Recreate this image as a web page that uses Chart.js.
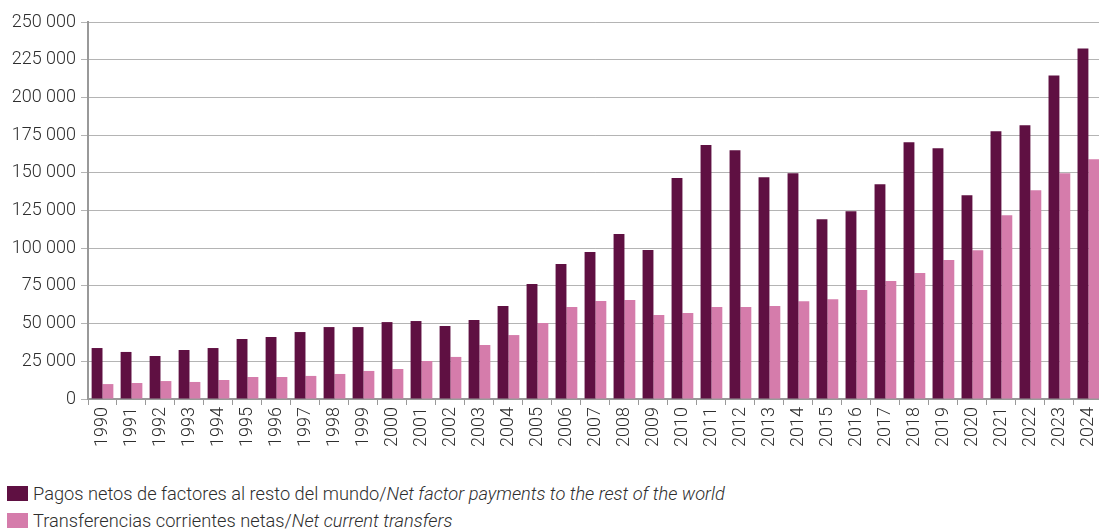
<!DOCTYPE html>
<html>
<head>
<meta charset="utf-8">
<script src="https://cdn.jsdelivr.net/npm/chart.js@4.4.1/dist/chart.umd.min.js"></script>
<style>
  html, body { margin: 0; padding: 0; background: #fff; overflow: hidden; }
  #wrap { position: absolute; left: 0; top: 0; width: 1112px; height: 462px; }
  #legend { position: absolute; left: 7px; top: 480px; font-family: Roboto, sans-serif; font-weight: 300; font-size: 19px; color: #2e2e2e; }
  .row { display: flex; align-items: center; height: 27px; white-space: nowrap; }
  .box { width: 21px; height: 15px; margin-right: 5px; flex: none; }
  .txt { display: inline-block; transform: scaleX(0.96); transform-origin: left center; }
</style>
</head>
<body>
<div id="wrap"><canvas id="chart"></canvas></div>
<div id="legend"></div>
<script>
// === DATA ===
const years = ["1990","1991","1992","1993","1994","1995","1996","1997","1998","1999",
  "2000","2001","2002","2003","2004","2005","2006","2007","2008","2009",
  "2010","2011","2012","2013","2014","2015","2016","2017","2018","2019",
  "2020","2021","2022","2023","2024"];

const netFactorPayments = [33800, 31200, 28500, 32500, 33800, 39800, 41100, 44400, 47700, 47700,
  51000, 51700, 48400, 52400, 61700, 76300, 89500, 97500, 109400, 98800,
  146600, 168400, 165000, 147000, 149700, 119200, 124500, 142400, 170200, 166200,
  135100, 177500, 181500, 214600, 232500];

const netCurrentTransfers = [9900, 10600, 11900, 11300, 12600, 14600, 14600, 15300, 16600, 18600,
  19900, 25200, 27900, 35800, 42400, 50400, 61000, 65000, 65600, 55700,
  57000, 61000, 61000, 61600, 64900, 66200, 72200, 78200, 83500, 92100,
  98700, 121900, 138400, 149700, 159000];

const seriesLabels = [
  "Pagos netos de factores al resto del mundo/Net factor payments to the rest of the world",
  "Transferencias corrientes netas/Net current transfers"
];
const seriesColors = ["#5f1042", "#d57cab"];

// === FORMAT: 250 000 ===
const fmt = (v) => String(v).replace(/\B(?=(\d{3})+(?!\d))/g, " ");

const tickFont = { family: "Roboto, sans-serif", size: 18, weight: "300" };

// === CHART ===
const ctx = document.getElementById("chart").getContext("2d");
const chart = new Chart(ctx, {
  type: "bar",
  data: {
    labels: years,
    datasets: [
      { label: seriesLabels[0], data: netFactorPayments, backgroundColor: seriesColors[0] },
      { label: seriesLabels[1], data: netCurrentTransfers, backgroundColor: seriesColors[1] },
    ],
  },
  options: {
    responsive: true,
    maintainAspectRatio: false,
    animation: false,
    layout: { padding: { top: 22, left: 0, right: 0, bottom: 0 } },
    datasets: { bar: { categoryPercentage: 0.75, barPercentage: 1.0 } },
    plugins: {
      legend: { display: false },
      tooltip: { enabled: false },
    },
    scales: {
      x: {
        grid: { display: true, drawOnChartArea: false, drawTicks: true, tickLength: 6, color: "#999", offset: true },
        border: { display: true, color: "#999", width: 2 },
        ticks: { color: "#2e2e2e", font: tickFont, autoSkip: false, minRotation: 90, maxRotation: 90, padding: 2 },
        afterFit: (s) => { s.height = 63; },
      },
      y: {
        min: 0,
        max: 250000,
        grid: { color: "#b4b4b4", lineWidth: 1, tickLength: 7, drawTicks: true },
        border: { display: true, color: "#999", width: 2 },
        ticks: { stepSize: 25000, color: "#2e2e2e", font: tickFont, padding: 5, callback: (v) => fmt(v) },
        afterFit: (s) => { s.width = 88; s.paddingTop = 0; s.paddingBottom = 0; },
      },
    },
  },
});

// === HTML LEGEND (Spanish regular / English italic) ===
const legend = document.getElementById("legend");
chart.data.datasets.forEach((ds) => {
  const [es, en] = ds.label.split("/");
  const row = document.createElement("div");
  row.className = "row";
  row.innerHTML = '<span class="box" style="background:' + ds.backgroundColor + '"></span>' +
    '<span class="txt">' + es + "/<i>" + en + "</i></span>";
  legend.appendChild(row);
});
</script>
</body>
</html>
